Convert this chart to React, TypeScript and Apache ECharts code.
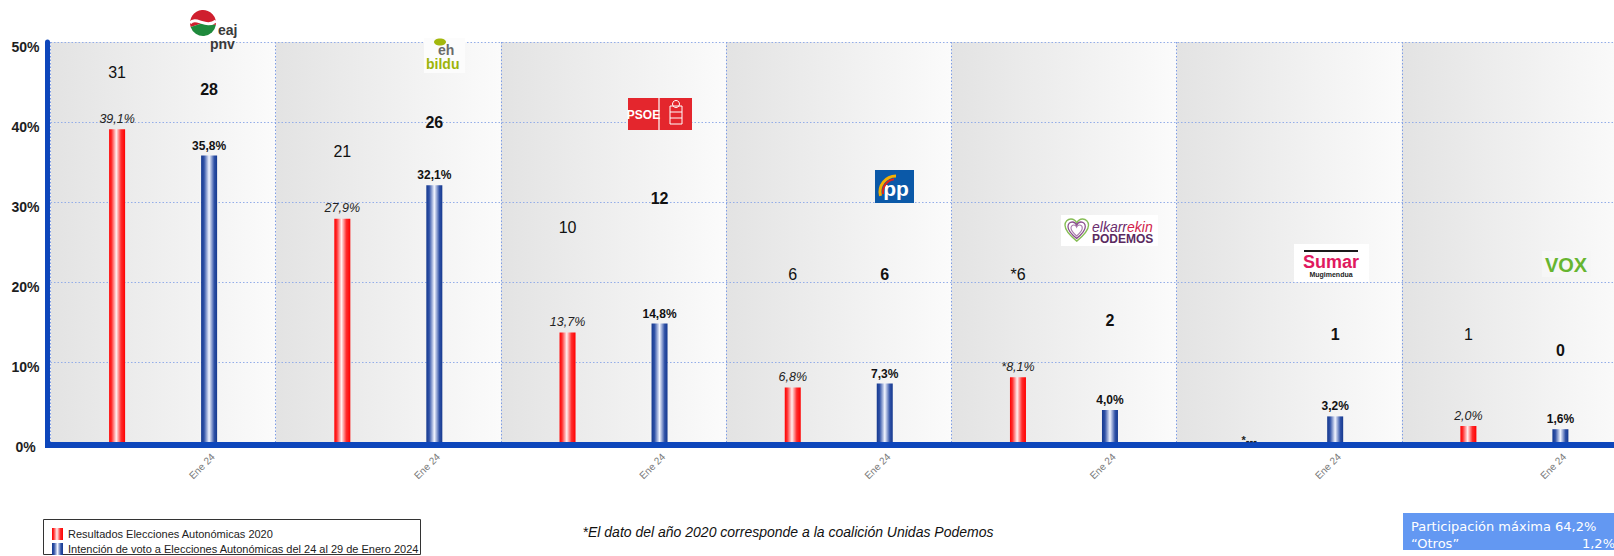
import React, { useEffect, useRef } from 'react';
import * as echarts from 'echarts';

// ---------------- data ----------------
const categories = ['EAJ-PNV', 'EH Bildu', 'PSE-EE', 'PP', 'Elkarrekin Podemos', 'Sumar', 'Vox'];
const results2020: (number | null)[] = [39.1, 27.9, 13.7, 6.8, 8.1, null, 2.0];
const poll2024: number[] = [35.8, 32.1, 14.8, 7.3, 4.0, 3.2, 1.6];
const seats2020: (number | null)[] = [31, 21, 10, 6, 6, null, 1];
const seats2024: number[] = [28, 26, 12, 6, 2, 1, 0];
const coalitionNote2020: boolean[] = [false, false, false, false, true, false, false];
const xTickLabel = 'Ene 24';
const yTickValues = [0, 10, 20, 30, 40, 50];
const seriesNames = [
  'Resultados Elecciones Autonómicas 2020',
  'Intención de voto a Elecciones Autonómicas del 24 al 29 de Enero 2024',
];
const participation = '64,2%';
const others = '1,2%';
const footnote = '*El dato del año 2020 corresponde a la coalición Unidas Podemos';

// heights (in axis units) at which the seat numbers are written
const seatLabelLevel2020: (number | null)[] = [46.2, 36.3, 26.8, 20.9, 20.9, null, 13.4];
const seatLabelLevel2024: number[] = [44.1, 40.0, 30.5, 20.9, 15.25, 13.4, 11.4];

// ---------------- styles ----------------
const FONT = 'Liberation Sans, Arial, Helvetica, sans-serif';
const VERDANA = 'DejaVu Sans, Verdana, sans-serif';
const AXIS_BLUE = '#0d46bb';
const GRID_BLUE = '#93ade9';

const redGrad = {
  type: 'linear', x: 0, y: 0, x2: 1, y2: 0,
  colorStops: [
    { offset: 0, color: '#ff0000' },
    { offset: 0.15, color: '#ff2c2c' },
    { offset: 0.45, color: '#fff0f0' },
    { offset: 0.75, color: '#ff2c2c' },
    { offset: 1, color: '#ff0000' },
  ],
};
const blueGrad = {
  type: 'linear', x: 0, y: 0, x2: 1, y2: 0,
  colorStops: [
    { offset: 0, color: '#15398f' },
    { offset: 0.18, color: '#2e50a6' },
    { offset: 0.5, color: '#f2f5ff' },
    { offset: 0.82, color: '#2e50a6' },
    { offset: 1, color: '#15398f' },
  ],
};
const bgGrad = {
  type: 'linear', x: 0, y: 0, x2: 1, y2: 0,
  colorStops: [
    { offset: 0, color: '#e3e3e3' },
    { offset: 1, color: '#fbfbfb' },
  ],
};

const HEART =
  'M12 21 C4 15 0 10 0 6 C0 2.5 2.7 0 6 0 C8.8 0 11 1.8 12 4 C13 1.8 15.2 0 18 0 C21.3 0 24 2.5 24 6 C24 10 20 15 12 21 Z';
echarts.graphic.registerShape('heart', echarts.graphic.extendPath(HEART, {}));

const fmtPct = (v: number) => v.toFixed(1).replace('.', ',') + '%';
const yMax = yTickValues[yTickValues.length - 1];

function buildOption() {
  const redData = results2020.map((v, i) =>
    v == null
      ? {
          value: 0,
          label: { formatter: '*---', fontStyle: 'normal', fontWeight: 'bold', fontSize: 11, offset: [6, 7] },
        }
      : { value: v, label: { formatter: (coalitionNote2020[i] ? '*' : '') + fmtPct(v) } }
  );

  const redMarks = seats2020
    .map((s, i) =>
      s == null || seatLabelLevel2020[i] == null
        ? null
        : { name: (coalitionNote2020[i] ? '*' : '') + s, coord: [categories[i], seatLabelLevel2020[i]] }
    )
    .filter(Boolean);

  const blueMarks: any[] = seats2024.map((s, i) => ({
    name: String(s),
    coord: [categories[i], seatLabelLevel2024[i]],
  }));
  categories.forEach((c) => {
    blueMarks.push({
      name: xTickLabel,
      coord: [c, 0],
      label: {
        show: true,
        formatter: '{b}',
        position: 'inside',
        rotate: 45,
        align: 'right',
        verticalAlign: 'middle',
        fontSize: 10,
        fontWeight: 'normal',
        color: '#7a7a7a',
        offset: [-6.4, 12],
      },
    });
  });

  const markBase = {
    symbol: 'rect',
    symbolSize: 1,
    itemStyle: { color: 'rgba(0,0,0,0)' },
    silent: true,
  };

  const T = (x: number, y: number, text: string, s: any = {}) => ({
    type: 'text',
    x,
    y,
    z: 10,
    style: { text, fontFamily: FONT, verticalAlign: 'middle', align: 'left', ...s },
  });

  const graphics: any[] = [
    // corner of axes
    { type: 'rect', z: 10, shape: { x: 45, y: 442, width: 6, height: 6 }, style: { fill: AXIS_BLUE } },

    // --- EAJ-PNV logo ---
    { type: 'sector', z: 10, shape: { cx: 203, cy: 23, r0: 0, r: 13, startAngle: Math.PI * 0.9, endAngle: Math.PI * 2.05 }, style: { fill: '#cf1f2e' } },
    { type: 'sector', z: 10, shape: { cx: 203, cy: 23, r0: 0, r: 13, startAngle: Math.PI * 0.05, endAngle: Math.PI * 0.9 }, style: { fill: '#1f8a3c' } },
    { type: 'bezierCurve', z: 11, shape: { x1: 190, y1: 23, cpx1: 196, cpy1: 16, cpx2: 206, cpy2: 29, x2: 216, y2: 21 }, style: { stroke: '#ffffff', lineWidth: 3, fill: 'none' } },
    T(218, 29.5, 'eaj', { fontSize: 14, fontWeight: 'bold', fill: '#3a3a3a', lineHeight: 13 }),
    T(210, 43.5, 'pnv', { fontSize: 14, fontWeight: 'bold', fill: '#3a3a3a', lineHeight: 13 }),

    // --- EH Bildu logo ---
    { type: 'rect', z: 10, shape: { x: 424, y: 38, width: 41, height: 35 }, style: { fill: '#fcfcfc' } },
    { type: 'ellipse', z: 11, shape: { cx: 440, cy: 42, rx: 6, ry: 3.5 }, style: { fill: '#a3b80c' } },
    T(438, 49.5, 'eh', { fontSize: 14, fontWeight: 'bold', fill: '#6b6b6b', lineHeight: 13 }),
    T(426, 63.5, 'bildu', { fontSize: 14, fontWeight: 'bold', fill: '#9db40b', lineHeight: 13 }),

    // --- PSOE logo ---
    { type: 'rect', z: 10, shape: { x: 628, y: 98, width: 64, height: 32 }, style: { fill: '#e4262d' } },
    { type: 'line', z: 11, shape: { x1: 659, y1: 98, x2: 659, y2: 130 }, style: { stroke: '#ffffff', lineWidth: 1.2 } },
    T(643.5, 114.5, 'PSOE', { fontSize: 12, fontWeight: 'bold', fill: '#ffffff', align: 'center', fontFamily: 'Liberation Sans Narrow, ' + FONT }),
    { type: 'rect', z: 11, shape: { x: 670, y: 106, width: 12, height: 18 }, style: { fill: 'none', stroke: '#ffffff', lineWidth: 1 } },
    { type: 'circle', z: 11, shape: { cx: 676, cy: 104, r: 3.5 }, style: { fill: 'none', stroke: '#ffffff', lineWidth: 1 } },
    { type: 'line', z: 11, shape: { x1: 670, y1: 112, x2: 682, y2: 112 }, style: { stroke: '#ffffff', lineWidth: 1 } },
    { type: 'line', z: 11, shape: { x1: 670, y1: 118, x2: 682, y2: 118 }, style: { stroke: '#ffffff', lineWidth: 1 } },

    // --- PP logo ---
    { type: 'rect', z: 10, shape: { x: 875, y: 170, width: 39, height: 33 }, style: { fill: '#0b59a8' } },
    { type: 'arc', z: 11, shape: { cx: 896, cy: 192, r: 16, startAngle: Math.PI * 0.92, endAngle: Math.PI * 1.5 }, style: { stroke: '#f6b000', lineWidth: 3, fill: 'none' } },
    { type: 'arc', z: 11, shape: { cx: 896, cy: 192, r: 13, startAngle: Math.PI * 0.95, endAngle: Math.PI * 1.45 }, style: { stroke: '#e2231a', lineWidth: 2, fill: 'none' } },
    T(896, 188, 'pp', { fontSize: 21, fontWeight: 'bold', fill: '#ffffff', align: 'center' }),

    // --- Elkarrekin Podemos logo ---
    { type: 'rect', z: 10, shape: { x: 1061, y: 215, width: 97, height: 31 }, style: { fill: '#ffffff' } },
    { type: 'heart', z: 11, x: 1065, y: 219, scaleX: 0.98, scaleY: 1.05, style: { fill: 'none', stroke: '#86bd55', lineWidth: 1.4 } },
    { type: 'heart', z: 11, x: 1068, y: 222, scaleX: 0.72, scaleY: 0.78, style: { fill: 'none', stroke: '#8a4f8f', lineWidth: 1.8 } },
    { type: 'heart', z: 11, x: 1071, y: 225, scaleX: 0.47, scaleY: 0.52, style: { fill: 'none', stroke: '#a87aac', lineWidth: 2.4 } },
    {
      type: 'text', z: 11, x: 1092, y: 226.5,
      style: {
        text: '{a|elkarr}{b|ekin}', verticalAlign: 'middle', align: 'left',
        rich: {
          a: { fontFamily: FONT, fontSize: 14, lineHeight: 11, fontStyle: 'italic', fill: '#6b2d6e', color: '#6b2d6e' },
          b: { fontFamily: FONT, fontSize: 14, lineHeight: 11, fontStyle: 'italic', fill: '#d21d4c', color: '#d21d4c' },
        },
      },
    },
    T(1092, 238.5, 'PODEMOS', { fontSize: 12, fontWeight: 'bold', fill: '#5b2a60', lineHeight: 10 }),

    // --- Sumar logo ---
    { type: 'rect', z: 10, shape: { x: 1294, y: 244, width: 75, height: 38 }, style: { fill: '#ffffff' } },
    { type: 'line', z: 11, shape: { x1: 1304, y1: 251, x2: 1358, y2: 251 }, style: { stroke: '#1a1a1a', lineWidth: 2 } },
    T(1331, 262, 'Sumar', { fontSize: 18, fontWeight: 'bold', fill: '#e0195f', align: 'center', lineHeight: 13 }),
    T(1331, 274, 'Mugimendua', { fontSize: 7, fontWeight: 'bold', fill: '#222222', align: 'center', lineHeight: 8 }),

    // --- VOX logo ---
    { type: 'rect', z: 10, shape: { x: 1542, y: 251, width: 49, height: 26 }, style: { fill: '#f6f6f6' } },
    T(1566, 264.5, 'VOX', { fontSize: 20, fontWeight: 'bold', fill: '#66b530', align: 'center' }),

    // --- legend ---
    { type: 'rect', z: 10, shape: { x: 43.5, y: 519.5, width: 377, height: 35 }, style: { fill: '#ffffff', stroke: '#333333', lineWidth: 1 } },
    { type: 'rect', z: 11, shape: { x: 52, y: 528, width: 11, height: 12 }, style: { fill: redGrad } },
    { type: 'rect', z: 11, shape: { x: 52, y: 543, width: 11, height: 12 }, style: { fill: blueGrad } },
    T(68, 534, seriesNames[0], { fontSize: 11, fill: '#222222', lineHeight: 13 }),
    T(68, 549, seriesNames[1], { fontSize: 11, fill: '#222222', lineHeight: 13 }),

    // --- footnote ---
    T(788, 532, footnote, { fontSize: 14, fontStyle: 'italic', fill: '#111111', align: 'center' }),

    // --- participation box ---
    { type: 'rect', z: 10, shape: { x: 1403, y: 513, width: 230, height: 37 }, style: { fill: '#6398f2' } },
    T(1411, 526, 'Participación máxima ' + participation, { fontSize: 13, fill: '#ffffff', fontFamily: VERDANA, lineHeight: 15 }),
    T(1411, 543, '“Otros”', { fontSize: 13, fill: '#ffffff', fontFamily: VERDANA, lineHeight: 15 }),
    T(1615, 543, others, { fontSize: 13, fill: '#ffffff', align: 'right', fontFamily: VERDANA, lineHeight: 15 }),
  ];

  return {
    animation: false,
    backgroundColor: '#ffffff',
    textStyle: { fontFamily: FONT },
    grid: { left: 50.5, top: 42, width: 1576.5, bottom: 114, containLabel: false },
    xAxis: [
      {
        type: 'category',
        data: categories,
        position: 'bottom',
        offset: 3,
        z: 1,
        axisLine: { show: true, onZero: false, lineStyle: { color: AXIS_BLUE, width: 6 } },
        axisTick: { show: false },
        axisLabel: { show: false },
        splitLine: { show: true, interval: 0, lineStyle: { color: '#7e9de6', width: 1, type: [1.5, 2] } },
      },
      {
        type: 'category',
        data: categories,
        show: false,
        gridIndex: 0,
      },
    ],
    yAxis: {
      type: 'value',
      min: 0,
      max: yMax,
      interval: 10,
      offset: 3,
      z: 1,
      axisLine: { show: true, lineStyle: { color: AXIS_BLUE, width: 5 } },
      axisTick: { show: false },
      axisLabel: {
        formatter: '{value}%',
        fontSize: 14,
        fontWeight: 'bold',
        color: '#1e1e1e',
        fontFamily: FONT,
        align: 'center',
        verticalAlign: 'top',
        lineHeight: 10,
        margin: 22,
      },
      splitLine: { show: true, lineStyle: { color: GRID_BLUE, width: 1, type: [1.5, 2] } },
    },
    series: [
      {
        type: 'bar',
        name: 'bg',
        xAxisIndex: 1,
        yAxisIndex: 0,
        data: categories.map(() => yMax),
        barWidth: '100%',
        barCategoryGap: '0%',
        itemStyle: { color: bgGrad },
        silent: true,
        z: 0,
      },
      {
        type: 'bar',
        name: seriesNames[0],
        xAxisIndex: 0,
        data: redData,
        barWidth: 16,
        barGap: '475%',
        itemStyle: { color: redGrad },
        label: {
          show: true,
          position: 'top',
          distance: 4,
          fontStyle: 'italic',
          fontSize: 12.5,
          color: '#222222',
          fontFamily: FONT,
        },
        markPoint: {
          ...markBase,
          data: redMarks,
          label: { show: true, position: 'inside', formatter: '{b}', fontSize: 16, color: '#111111', fontFamily: FONT },
        },
        z: 2,
      },
      {
        type: 'bar',
        name: seriesNames[1],
        xAxisIndex: 0,
        data: poll2024,
        barWidth: 16,
        barGap: '475%',
        itemStyle: { color: blueGrad },
        label: {
          show: true,
          position: 'top',
          distance: 4,
          fontWeight: 'bold',
          fontSize: 12,
          color: '#111111',
          fontFamily: FONT,
          formatter: (p: any) => fmtPct(p.value),
        },
        markPoint: {
          ...markBase,
          data: blueMarks,
          label: { show: true, position: 'inside', formatter: '{b}', fontSize: 16, fontWeight: 'bold', color: '#111111', fontFamily: FONT },
        },
        z: 2,
      },
    ],
    graphic: { elements: graphics },
  };
}

export default function App() {
  const ref = useRef<HTMLDivElement>(null);
  useEffect(() => {
    document.body.style.margin = '0';
    document.body.style.overflow = 'hidden';
    document.documentElement.style.overflow = 'hidden';
    const chart = echarts.init(ref.current as HTMLDivElement, undefined, { renderer: 'svg' });
    chart.setOption(buildOption() as any);
    return () => chart.dispose();
  }, []);
  return <div ref={ref} style={{ width: 1640, height: 556 }} />;
}
